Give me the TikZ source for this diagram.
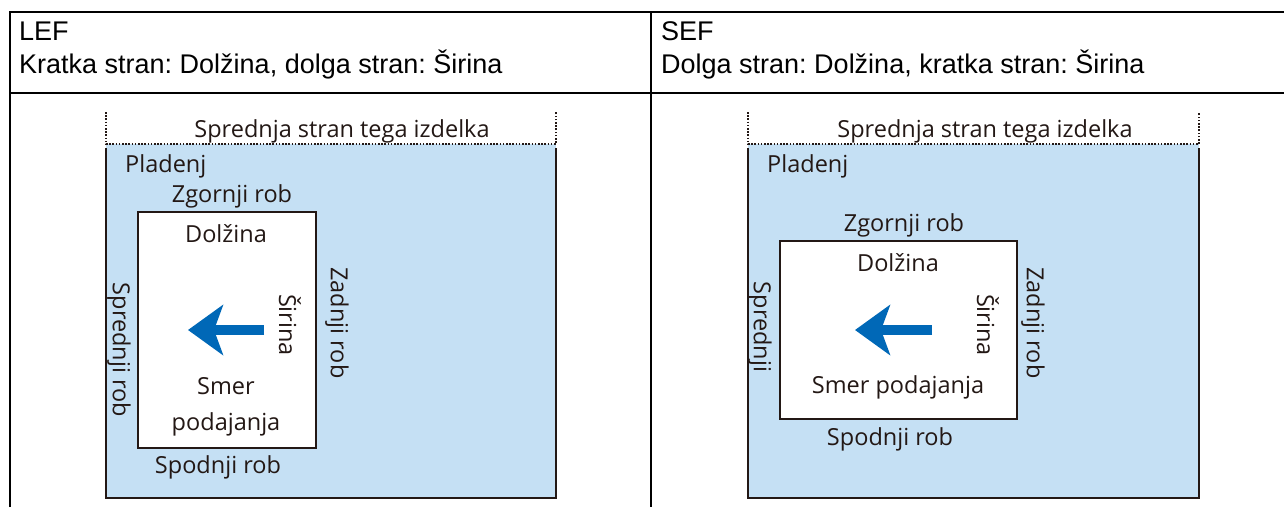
\documentclass[tikz,border=0pt]{standalone}
\usepackage{fontspec}
\setmainfont{Liberation Sans}
\newfontfamily\diagfont{Open Sans}
\usetikzlibrary{arrows.meta}
\frenchspacing
\definecolor{trayblue}{RGB}{197,224,244}
\definecolor{ink}{RGB}{35,24,21}
\definecolor{arrowblue}{RGB}{0,104,183}
\tikzset{
  tableline/.style={draw=black, line width=1.2pt},
  head/.style={anchor=base west, inner sep=0pt, font=\fontsize{27}{30}\selectfont, text=black},
  lbl/.style={anchor=base, inner sep=0pt, font=\diagfont\fontsize{23.5}{28}\selectfont, text=ink},
  rlbl/.style={anchor=center, inner sep=0pt, rotate=-90, font=\diagfont\fontsize{23.5}{28}\selectfont, text=ink},
  trayedge/.style={draw=ink, line width=2pt},
  traydot/.style={draw=ink, line width=1.6pt, dash pattern=on 1.6pt off 1.6pt},
  paper/.style={draw=ink, fill=white, line width=2pt, rectangle, inner sep=0pt},
  feed/.style={draw=arrowblue, line width=10pt, -{Stealth[length=35pt, width=50pt, inset=9pt]}},
}
\begin{document}
\begin{tikzpicture}[x=1pt,y=-1pt]
\useasboundingbox (0,0) rectangle (1284,507);
% table
\draw[tableline] (10,507) -- (10,12) -- (1284,12);
\draw[tableline] (10,93) -- (1284,93);
\draw[tableline] (651,12) -- (651,507);
\node[head] (lefA) at (19,40) {LEF};
\node[head] (lefB) at (19,73) {Kratka stran: Dolžina, dolga stran: Širina};
\node[head] (sefA) at (661,40) {SEF};
\node[head] (sefB) at (661,73) {Dolga stran: Dolžina, kratka stran: Širina};

% ---------- LEF ----------
\fill[trayblue] (106,144) rectangle (556,498);
\draw[trayedge] (106,148) -- (106,498) -- (556,498) -- (556,148);
\draw[traydot] (106,112) -- (106,144) -- (556,144) -- (556,112);
\node[lbl] (lfront) at (342,137) {Sprednja stran tega izdelka};
\node[lbl, anchor=base west] (ltray) at (125,172) {Pladenj};
\node[paper, minimum width=178pt, minimum height=236pt] (lpaper) at (227,330) {};
\node[lbl] (ltop) at (232,202) {Zgornji rob};
\node[lbl] (llen) at (226,242) {Dolžina};
\node[rlbl] (lwid) at (290,325) {Širina};
\node[lbl] (ldir1) at (226,394) {Smer};
\node[lbl] (ldir2) at (226,430) {podajanja};
\node[lbl] (lbot) at (218,473) {Spodnji rob};
\node[rlbl] (lfe) at (119,350) {Sprednji rob};
\node[rlbl] (lre) at (337,323) {Zadnji rob};
\coordinate (lat) at (264,330);
\coordinate (lah) at (188,330);
\draw[feed] (lat) -- (lah);

% ---------- SEF ----------
\fill[trayblue] (748,144) rectangle (1199,498);
\draw[trayedge] (748,148) -- (748,498) -- (1199,498) -- (1199,148);
\draw[traydot] (748,112) -- (748,144) -- (1199,144) -- (1199,112);
\node[lbl] (sfront) at (985,137) {Sprednja stran tega izdelka};
\node[lbl, anchor=base west] (stray) at (767,172) {Pladenj};
\node[paper, minimum width=237pt, minimum height=178pt] (spaper) at (898.5,330) {};
\node[lbl] (stop) at (904,231) {Zgornji rob};
\node[lbl] (slen) at (898,271) {Dolžina};
\node[rlbl] (swid) at (988,325) {Širina};
\node[lbl] (sdir) at (898,393) {Smer podajanja};
\node[lbl] (sbot) at (890,445) {Spodnji rob};
\node[rlbl] (sfe) at (760,327) {Sprednji};
\node[rlbl] (sre) at (1033,323) {Zadnji rob};
\coordinate (sat) at (932,330);
\coordinate (sah) at (855,330);
\draw[feed] (sat) -- (sah);
\end{tikzpicture}
\end{document}
